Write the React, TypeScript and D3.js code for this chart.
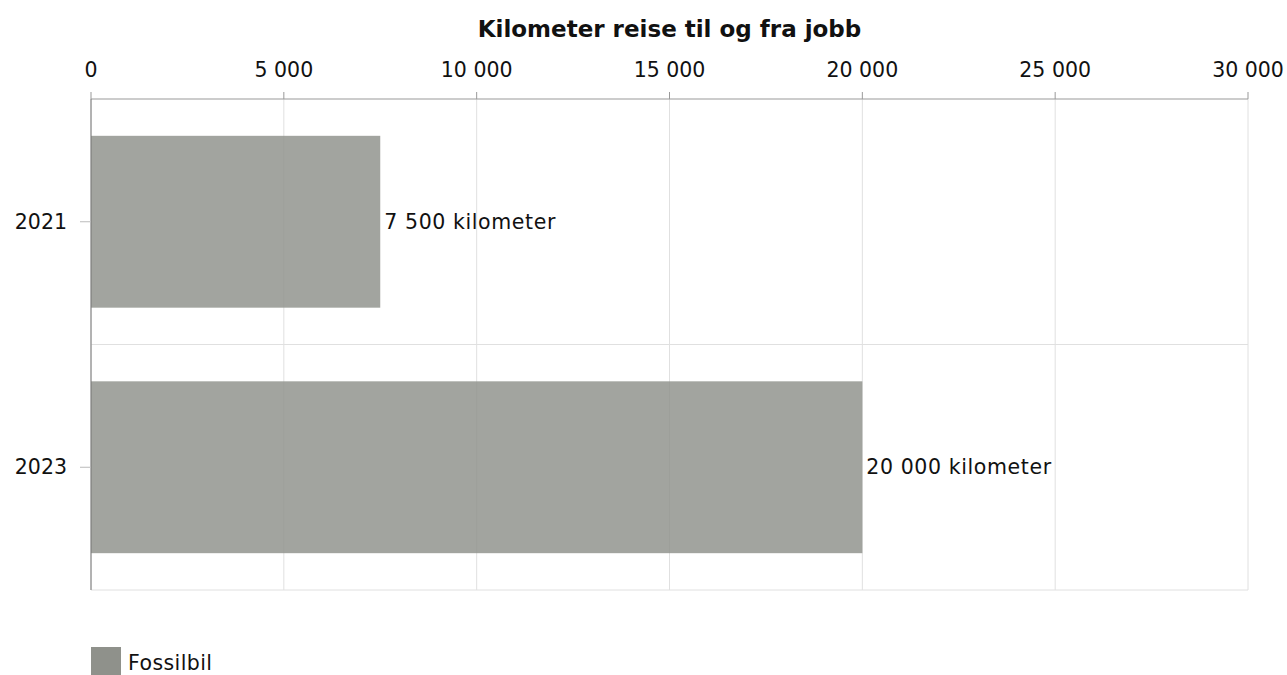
import React from 'react';
import * as d3 from 'd3';

const categories = ['2021', '2023'];
const values = [7500, 20000];
const xTicks = [0, 5000, 10000, 15000, 20000, 25000, 30000];
const seriesName = 'Fossilbil';
const title = 'Kilometer reise til og fra jobb';

const fmt = (v: number) => d3.format(',')(v).replace(/,/g, ' ');

export default function App() {
    const width = 1287;
    const height = 675;
    const margin = { top: 99, right: 39, bottom: 85, left: 91 };
    const w = width - margin.left - margin.right;
    const h = height - margin.top - margin.bottom;
    const font = '"DejaVu Sans", Verdana, sans-serif';

    const scale_x = d3.scaleLinear().domain([0, 30000]).range([0, w]);
    const scale_y = d3.scaleBand().domain(categories).range([0, h]).paddingInner(0.3).paddingOuter(0.15);
    const band = d3.scaleBand().domain(categories).range([0, h]);

    return (
        <svg width={width} height={height} style={{ position: 'absolute', left: 0, top: 0 }} fontFamily={font}>
            <text x={margin.left + w / 2} y={37} textAnchor="middle" fontSize={23} fontWeight="bold" fill="#111">
                {title}
            </text>
            <g transform={`translate(${margin.left}, ${margin.top})`}>
                {/* grid */}
                {xTicks.map((t) => (
                    <line key={t} x1={scale_x(t)} x2={scale_x(t)} y1={0} y2={h} stroke="#e0e0e0" strokeWidth={1} />
                ))}
                {categories.slice(1).map((c) => (
                    <line key={c} x1={0} x2={w} y1={band(c)} y2={band(c)} stroke="#e0e0e0" />
                ))}
                <line x1={0} x2={w} y1={h} y2={h} stroke="#e0e0e0" />
                {/* bars */}
                {categories.map((c, i) => (
                    <g key={c}>
                        <rect
                            x={0}
                            y={scale_y(c)}
                            width={scale_x(values[i])}
                            height={scale_y.bandwidth()}
                            fill="#8f918b"
                            fillOpacity={0.83}
                        />
                        <text
                            x={scale_x(values[i]) + 4}
                            y={(scale_y(c) ?? 0) + scale_y.bandwidth() / 2}
                            dy="0.35em"
                            fontSize={20.5}
                            letterSpacing={0.6}
                            fill="#111"
                        >
                            {fmt(values[i])} kilometer
                        </text>
                    </g>
                ))}
                {/* top axis */}
                <line x1={0} x2={w} y1={0} y2={0} stroke="#999" />
                {xTicks.map((t) => (
                    <g key={t} transform={`translate(${scale_x(t)}, 0)`}>
                        <line y1={-7} y2={0} stroke="#999" />
                        <text y={-22} textAnchor="middle" fontSize={20.5} fill="#111">
                            {fmt(t)}
                        </text>
                    </g>
                ))}
                {/* left axis */}
                <line x1={0} x2={0} y1={0} y2={h} stroke="#777" />
                {categories.map((c) => {
                    const y = (band(c) ?? 0) + band.bandwidth() / 2;
                    return (
                        <g key={c} transform={`translate(0, ${y})`}>
                            <line x1={-11} x2={0} stroke="#bbb" />
                            <text x={-24} dy="0.35em" textAnchor="end" fontSize={20.5} fill="#111">
                                {c}
                            </text>
                        </g>
                    );
                })}
            </g>
            {/* legend */}
            <rect x={91} y={647} width={30} height={30} fill="#8f918b" />
            <text x={128} y={670} fontSize={20.5} letterSpacing={0.4} fill="#111">
                {seriesName}
            </text>
        </svg>
    );
}
